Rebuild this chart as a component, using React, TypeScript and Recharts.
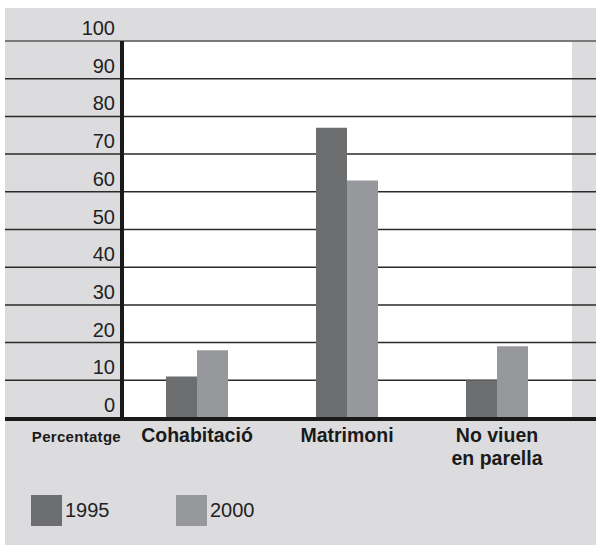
import React from 'react';
import { BarChart, Bar, XAxis, YAxis, CartesianGrid } from 'recharts';

const categories = ['Cohabitació', 'Matrimoni', 'No viuen en parella'];
const categoryLines = [['Cohabitació'], ['Matrimoni'], ['No viuen', 'en parella']];
const values1995 = [11, 77, 10];
const values2000 = [18, 63, 19];
const seriesNames = ['1995', '2000'];
const seriesColors = ['#6d6e70', '#97989b'];
const yTicks = [0, 10, 20, 30, 40, 50, 60, 70, 80, 90, 100];
const axisTitle = 'Percentatge';

const data = categories.map((c, i) => ({
  name: c,
  v1995: values1995[i],
  v2000: values2000[i],
}));

const W = 596;
const H = 547;
const BG = '#dcdcde';
const FONT = 'Liberation Sans, Arial, sans-serif';

const YTick = (props: any) => {
  const { x, y, payload } = props;
  return (
    <text x={x + 1} y={y - 6} textAnchor="end" fontFamily={FONT} fontSize={20} fill="#222">
      {payload.value}
    </text>
  );
};

const XTick = (props: any) => {
  const { x, y, payload, index } = props;
  const lines = categoryLines[index] || [payload.value];
  return (
    <g>
      {index === 0 && (
        <text x={121} y={y + 16} textAnchor="end" fontFamily={FONT} fontWeight={900} fontSize={15} letterSpacing={0.3} fill="#1a1a1a">
          {axisTitle}
        </text>
      )}
      {lines.map((l: string, i: number) => (
        <text key={i} x={x} y={y + 16 + i * 23} textAnchor="middle" fontFamily={FONT} fontWeight={700} fontSize={19.5} fill="#1a1a1a">
          {l}
        </text>
      ))}
    </g>
  );
};

const gridLine = (props: any) => {
  const { y1, index } = props;
  const isTop = index === 0;
  return (
    <line
      key={`g-${index}`}
      x1={5}
      x2={W}
      y1={y1}
      y2={y1}
      stroke={isTop ? '#7a7a7a' : '#2a2a2a'}
      strokeWidth={isTop ? 2 : 1.5}
    />
  );
};

export default function App() {
  return (
    <div style={{ position: 'absolute', left: 0, top: 0, width: W, height: H, background: '#fff' }}>
      <div style={{ position: 'absolute', left: 5, top: 8, width: W - 5, height: 537, background: BG }} />
      <div style={{ position: 'absolute', left: 0, top: 0 }}>
        <BarChart
          width={W}
          height={H}
          data={data}
          margin={{ top: 41, right: 24, left: 5, bottom: 99 }}
          barCategoryGap={44}
          barGap={0}
        >
          <CartesianGrid
            vertical={false}
            horizontal={gridLine}
            fill="#ffffff"
            horizontalValues={yTicks.slice().reverse()}
          />
          <YAxis
            type="number"
            domain={[0, 100]}
            ticks={yTicks}
            interval={0}
            width={117}
            tickLine={false}
            axisLine={{ stroke: '#1a1a1a', strokeWidth: 4 }}
            tick={<YTick />}
          />
          <XAxis
            dataKey="name"
            height={30}
            tickLine={false}
            axisLine={false}
            interval={0}
            tick={<XTick />}
          />
          <Bar dataKey="v1995" name={seriesNames[0]} fill={seriesColors[0]} isAnimationActive={false} />
          <Bar dataKey="v2000" name={seriesNames[1]} fill={seriesColors[1]} isAnimationActive={false} />
        </BarChart>
      </div>
      <div style={{ position: 'absolute', left: 5, top: 417, width: W - 5, height: 4, background: '#1a1a1a' }} />
      {seriesNames.map((s, i) => (
        <div key={s} style={{ position: 'absolute', left: 31 + i * 145, top: 495, display: 'flex', alignItems: 'center' }}>
          <div style={{ width: 31, height: 31, background: seriesColors[i] }} />
          <span style={{ marginLeft: 3, fontFamily: FONT, fontSize: 20, color: '#222' }}>{s}</span>
        </div>
      ))}
    </div>
  );
}
